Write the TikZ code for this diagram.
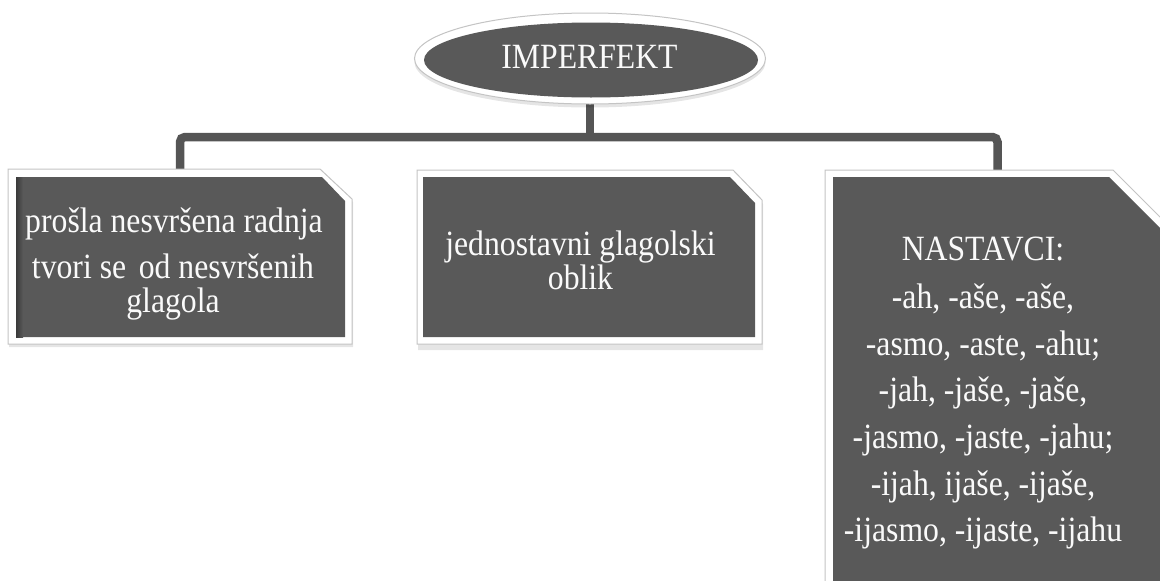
\documentclass[tikz,border=0pt]{standalone}
\usepackage{fontspec}
\usepackage{graphicx}
\setmainfont{Liberation Serif}
\usetikzlibrary{shapes.geometric}
\definecolor{boxfill}{HTML}{595959}
\definecolor{linecol}{HTML}{555555}
\definecolor{framegray}{HTML}{C4C4C4}
\definecolor{txtcol}{HTML}{FAFAFA}
\newcommand\tallt[1]{\scalebox{1}[1.12]{#1}}
\tikzset{
  lbl/.style={anchor=base, text=txtcol, inner sep=0pt, font=\fontsize{31.7}{34}\selectfont},
  conn/.style={draw=linecol, line width=8.5pt, rounded corners=5pt},
  framebox/.style={fill=white, draw=framegray, line width=1pt},
  darkbox/.style={fill=boxfill},
  softshadow/.style={fill=black, opacity=0.10},
  holder/.style={inner sep=0pt, draw=none}
}
\begin{document}
\begin{tikzpicture}[x=1pt, y=-1pt]
\useasboundingbox (0,0) rectangle (1160,581);
\fill[white] (0,0) rectangle (1160,581);

% invisible named holders
\node[holder, ellipse, minimum width=351pt, minimum height=91pt] (E) at (590,58.5) {};
\node[holder, minimum width=344pt, minimum height=175pt] (L) at (180,256.5) {};
\node[holder, minimum width=345pt, minimum height=174pt] (M) at (589.5,257) {};
\node[holder, minimum width=355pt, minimum height=430pt] (R) at (1002.5,385) {};
\coordinate (bar) at (590,137);
\coordinate (rdrop) at (997.5,170);

% connectors
\draw[conn] (E.south) -- (E.south |- bar);
\draw[conn] (L.north) |- (bar) -| (rdrop);

% ellipse
\fill[softshadow] (590,62) ellipse [x radius=175.5pt, y radius=45.5pt];
\draw[framebox] (E.center) ellipse [x radius=175.5pt, y radius=45.5pt];
\fill[darkbox] (591,60) ellipse [x radius=167pt, y radius=37.5pt];

% left box
\fill[softshadow] (9,172) -- (321,172) -- (353,202) -- (353,347) -- (9,347) -- cycle;
\draw[framebox] (8,169) -- (320,169) -- (352,199) -- (352,344) -- (8,344) -- cycle;
\fill[darkbox] (16,177) -- (322,177) -- (345,201) -- (345,337) -- (16,337) -- cycle;
\shade[left color=black!35!boxfill, right color=boxfill] (16,177) rectangle (23,337);

% middle box
\fill[softshadow] (418,174) -- (734,174) -- (763,204) -- (763,350) -- (418,350) -- cycle;
\draw[framebox] (417,170) -- (733,170) -- (762,200) -- (762,344) -- (417,344) -- cycle;
\fill[darkbox] (423,177) -- (730,177) -- (755,203) -- (755,337) -- (423,337) -- cycle;

% right box
\fill[softshadow] (826,173) -- (1114,173) -- (1181,240) -- (1181,600) -- (826,600) -- cycle;
\draw[framebox] (825,170) -- (1113,170) -- (1180,237) -- (1180,600) -- (825,600) -- cycle;
\fill[darkbox] (833,177) -- (1109,177) -- (1171,239) -- (1171,600) -- (833,600) -- cycle;

% texts
\node[lbl] (t0) at (589.5,68) {\tallt{IMPERFEKT}};

\node[lbl] (l1) at (174,232) {\tallt{prošla nesvršena radnja}};
\node[lbl] (l2) at (173,278) {\tallt{tvori se\hspace{0.15em} od nesvršenih}};
\node[lbl] (l3) at (173,312) {\tallt{glagola}};

\node[lbl] (m1) at (580.5,255) {\tallt{jednostavni glagolski}};
\node[lbl] (m2) at (580.5,289) {\tallt{oblik}};

\node[lbl] (r0) at (983,260.7) {\tallt{NASTAVCI:}};
\node[lbl] (r1) at (983,308.3) {\tallt{-ah, -aše, -aše,}};
\node[lbl] (r2) at (983,355) {\tallt{-asmo, -aste, -ahu;}};
\node[lbl] (r3) at (983,401.7) {\tallt{-jah, -jaše, -jaše,}};
\node[lbl] (r4) at (983,448.3) {\tallt{-jasmo, -jaste, -jahu;}};
\node[lbl] (r5) at (983,495) {\tallt{-ijah, ijaše, -ijaše,}};
\node[lbl] (r6) at (983,541) {\tallt{-ijasmo, -ijaste, -ijahu}};
\end{tikzpicture}
\end{document}
